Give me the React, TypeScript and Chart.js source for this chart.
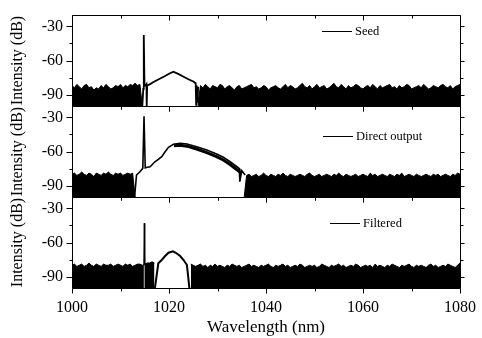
import React, { useEffect, useRef } from "react";
import { Chart, registerables } from "chart.js";

Chart.register(...registerables);

// ---------- axis / label data ----------
const X_START = 1000;
const X_STEP = 0.5;
const xMajorTicks = [1000, 1020, 1040, 1060, 1080];
const xMinorTicks = [1010, 1030, 1050, 1070];
const yMajorTicks = [-90, -60, -30];
const yMinorTicks = [-75, -45];
const panelNames = ["Seed", "Direct output", "Filtered"];
const yTitle = "Intensity (dB)";
const xTitle = "Wavelength (nm)";

// ---------- noise floor tops (0.5 nm grid), gaps where the signal sits ----------
const seedNoiseLeft = [-82, -84, -81, -83, -85, -82, -81, -84, -83, -86, -84, -85, -82, -84, -81, -83, -85, -84, -82, -83, -81, -84, -82, -83, -81, -82, -80, -82, -81];
const seedNoiseRight = [
  -82, -84, -81, -83, -85, -82, -83, -84, -81, -82, -85, -83, -82, -84, -86, -83, -82, -85, -84, -83,
  -82, -81, -84, -83, -85, -84, -82, -83, -86, -84, -83, -82, -84, -85, -83, -81, -84, -82, -83, -85,
  -84, -82, -80, -83, -84, -82, -85, -83, -81, -84, -83, -82, -85, -84, -82, -80, -83, -84, -81, -83,
  -85, -82, -84, -83, -81, -82, -84, -85, -83, -82, -84, -81, -83, -85, -82, -84, -83, -82, -81, -84,
  -83, -85, -82, -84, -83, -81, -82, -85, -84, -83, -82, -84, -81, -83, -85, -84, -82, -83, -84, -82,
  -81, -83, -84, -82, -85, -83, -82, -81,
];
const directNoiseLeft = [-80, -79, -81, -80, -78, -80, -81, -79, -80, -82, -79, -80, -81, -79, -80, -78, -80, -81, -79, -80, -79, -81, -80, -79, -80, -79];
const directNoiseRight = [
  -81, -80, -82, -81, -80, -82, -81, -79, -81, -82, -80, -81, -82, -80, -81, -79, -81, -82, -80, -81,
  -82, -81, -80, -81, -82, -80, -79, -81, -82, -81, -80, -82, -81, -80, -81, -82, -80, -81, -79, -81,
  -82, -80, -81, -82, -81, -80, -82, -81, -80, -81, -82, -79, -81, -80, -82, -81, -80, -81, -82, -80,
  -81, -82, -80, -81, -79, -82, -81, -80, -81, -82, -80, -81, -82, -81, -80, -81, -82, -80, -81, -80,
  -82, -81, -80, -81, -82, -80, -81, -79, -80,
];
const filteredNoiseLeft = [
  -80, -79, -81, -80, -79, -81, -80, -78, -80, -81, -79, -80, -81, -79, -80, -80, -79, -81, -80, -79,
  -80, -81, -79, -80, -79, -81, -80, -79, -79, -80, -79, -78, -78, -77, -78,
];
const filteredNoiseRight = [
  -79, -80, -81, -80, -79, -81, -80, -82, -80, -81, -79, -81, -80, -81, -82, -80, -81, -79, -80, -81,
  -80, -82, -81, -80, -79, -81, -80, -81, -82, -80, -81, -80, -79, -81, -82, -80, -81, -80, -79, -81,
  -80, -82, -81, -80, -81, -79, -80, -82, -81, -80, -81, -80, -82, -81, -79, -80, -81, -82, -80, -81,
  -80, -79, -81, -80, -82, -81, -80, -81, -79, -80, -82, -81, -80, -81, -80, -82, -79, -81, -80, -81,
  -82, -80, -81, -79, -80, -81, -82, -80, -81, -80, -79, -81, -82, -80, -81, -80, -81, -82, -80, -79,
  -81, -80, -82, -81, -80, -81, -79, -80, -81, -82, -80, -78,
];

// ---------- signal traces ----------
const seedSignalX = [1014.5, 1014.7, 1014.8, 1014.95, 1015.2, 1015.35, 1015.4, 1015.5, 1016.0, 1017.0, 1018.0, 1019.0, 1020.0, 1020.9, 1022.0, 1023.0, 1024.0, 1025.0, 1025.5, 1025.6, 1025.7, 1025.9, 1026.0];
const seedSignalY = [-100, -85, -37.5, -82, -82, -81, -100, -82, -81, -78.5, -76.3, -74, -71.7, -69.8, -72, -74.3, -76.5, -78.5, -80, -99, -82, -97, -83];

const directSignalX = [1012.9, 1013.3, 1014.0, 1014.6, 1014.85, 1015.1, 1015.5, 1016.1, 1017.1, 1017.8, 1018.5, 1019.2, 1019.9, 1020.9, 1022.3, 1023.7, 1025.7, 1027.8, 1029.8, 1031.2, 1032.6, 1034.0, 1034.5, 1034.6, 1035.0, 1035.7];
const directSignalY = [-100, -80.7, -77.8, -74.8, -29, -74.5, -73.9, -73.4, -69, -66.9, -64.6, -60.2, -56.3, -53.7, -52.8, -53.4, -55.8, -58.7, -62.2, -65.1, -69, -73.4, -75, -86.5, -76.9, -80.7];
const directBandX = [1021.0, 1022.3, 1023.7, 1025.7, 1027.8, 1029.8, 1031.2, 1032.6, 1034.0, 1035.0];
const directBandY = [-55, -54.5, -55.3, -57.8, -61, -64.5, -67.5, -71.5, -76, -79.5];

const filteredSignalX = [1017.1, 1017.8, 1018.5, 1019.2, 1019.9, 1020.8, 1021.4, 1022.3, 1023.0, 1023.7, 1024.2];
const filteredSignalY = [-100, -78.3, -75.4, -71.9, -69, -67.7, -69, -71.9, -75.4, -79.8, -100];
const filteredSpikeX = [1014.8, 1014.9, 1015.0];
const filteredSpikeY = [-79, -43.1, -79];
const filteredSpikeFootX = [1014.9, 1014.9];
const filteredSpikeFootY = [-100, -80];

const gap = (n: number) => new Array(n).fill(null);
const seedNoise = [...seedNoiseLeft, -100, ...gap(22), -97, ...seedNoiseRight];
const directNoise = [...directNoiseLeft, -100, ...gap(44), -100, ...directNoiseRight];
const filteredNoise = [...filteredNoiseLeft, ...gap(14), ...filteredNoiseRight];

const toPoints = (ys: (number | null)[]) => ys.map((y, i) => ({ x: X_START + i * X_STEP, y }));
const zipPoints = (xs: number[], ys: number[]) => xs.map((x, i) => ({ x, y: ys[i] }));

const PANEL_IDS = ["yS", "yD", "yF"];
const FONT = "'Liberation Serif', 'Times New Roman', serif";

const legendPos = [
  { dx: 250, dy: 16 },
  { dx: 251, dy: 29.7 },
  { dx: 258, dy: 26.3 },
];

const zeroPad = (s: any) => {
  s.paddingTop = 0;
  s.paddingBottom = 0;
  s.paddingLeft = 0;
  s.paddingRight = 0;
};

const framePlugin = {
  id: "frame",
  afterDatasetsDraw(chart: any) {
    const ctx = chart.ctx;
    const xs = chart.scales.x;
    ctx.save();
    ctx.strokeStyle = "#000";
    ctx.lineWidth = 1;
    const L = Math.round(xs.left) + 0.5;
    const R = Math.round(xs.right) + 0.5;
    PANEL_IDS.forEach((id, p) => {
      const ys = chart.scales[id];
      const T = Math.round(ys.top) + 0.5;
      const B = Math.round(ys.bottom) + 0.5;
      ctx.beginPath();
      ctx.rect(L, T, R - L, B - T);
      const xt = (vals: number[], len: number) => {
        vals.forEach((v) => {
          const px = Math.round(xs.getPixelForValue(v)) + 0.5;
          ctx.moveTo(px, T);
          ctx.lineTo(px, T + len);
          ctx.moveTo(px, B);
          ctx.lineTo(px, B + len);
        });
      };
      xt(xMajorTicks, 5);
      xt(xMinorTicks, 3);
      const yt = (vals: number[], lenL: number, lenR: number) => {
        vals.forEach((v) => {
          const py = Math.round(ys.getPixelForValue(v)) + 0.5;
          ctx.moveTo(L - lenL, py);
          ctx.lineTo(L, py);
          ctx.moveTo(R, py);
          ctx.lineTo(R + lenR, py);
        });
      };
      yt(yMajorTicks, 6, 4);
      yt(yMinorTicks, 3, 3);
      ctx.stroke();

      // legend
      const lp = legendPos[p];
      const lx = Math.round(xs.left) + lp.dx;
      const ly = Math.round(ys.top + lp.dy) + 0.5;
      ctx.beginPath();
      ctx.moveTo(lx, ly);
      ctx.lineTo(lx + 30, ly);
      ctx.stroke();
      ctx.fillStyle = "#000";
      ctx.font = `12.5px ${FONT}`;
      ctx.textBaseline = "middle";
      ctx.textAlign = "left";
      ctx.fillText(panelNames[p], lx + 33, ly);
    });
    ctx.restore();
  },
};

function yScale(weight: number) {
  return {
    type: "linear" as const,
    position: "left" as const,
    stack: "panels",
    stackWeight: 1,
    weight,
    min: -100,
    max: -20,
    afterBuildTicks: (s: any) => {
      s.ticks = yMajorTicks.map((v) => ({ value: v }));
    },
    afterFit: (s: any) => {
      s.width = 72;
      zeroPad(s);
    },
    grid: { display: false, drawTicks: false },
    border: { display: false },
    ticks: { color: "#000", padding: 9, font: { family: FONT, size: 16 }, callback: (v: any) => String(v) },
    title: {
      display: true,
      text: yTitle,
      color: "#000",
      font: { family: FONT, size: 16 },
      padding: { top: 8, bottom: 0 },
    },
  };
}

export default function App() {
  const ref = useRef<HTMLCanvasElement | null>(null);
  useEffect(() => {
    if (!ref.current) return;
    const line = (data: any[], yAxisID: string, extra: any = {}) => ({
      data,
      yAxisID,
      borderColor: "#000",
      borderWidth: 1.5,
      pointRadius: 0,
      tension: 0,
      fill: false,
      spanGaps: false,
      ...extra,
    });
    const chart = new Chart(ref.current, {
      type: "line",
      data: {
        datasets: [
          line(zipPoints(seedSignalX, seedSignalY), "yS", { borderWidth: 1.8 }),
          line(zipPoints(directSignalX, directSignalY), "yD", { borderWidth: 1.6 }),
          line(zipPoints(directBandX, directBandY), "yD", { borderWidth: 3 }),
          line(zipPoints(filteredSignalX, filteredSignalY), "yF", { borderWidth: 2 }),
          line(zipPoints(filteredSpikeX, filteredSpikeY), "yF", { borderWidth: 1 }),
          line(zipPoints(filteredSpikeFootX, filteredSpikeFootY), "yF", { borderWidth: 1, borderColor: "#bbbbbb" }),
          line(toPoints(seedNoise), "yS", { borderWidth: 1, backgroundColor: "#000", fill: "start" }),
          line(toPoints(directNoise), "yD", { borderWidth: 1, backgroundColor: "#000", fill: "start" }),
          line(toPoints(filteredNoise), "yF", { borderWidth: 1, backgroundColor: "#000", fill: "start" }),
        ],
      },
      options: {
        responsive: false,
        animation: false,
        devicePixelRatio: 1,
        parsing: false as any,
        normalized: true,
        layout: { padding: { left: 0, right: 22, top: 15, bottom: 0 } },
        plugins: { legend: { display: false }, tooltip: { enabled: false } },
        scales: {
          x: {
            type: "linear",
            position: "bottom",
            min: 1000,
            max: 1080,
            afterBuildTicks: (s: any) => {
              s.ticks = xMajorTicks.map((v) => ({ value: v }));
            },
            afterFit: (s: any) => {
              s.height = 50;
              zeroPad(s);
            },
            grid: { display: false, drawTicks: false },
            border: { display: false },
            ticks: {
              color: "#000",
              padding: 10,
              maxRotation: 0,
              font: { family: FONT, size: 16 },
              callback: (v: any) => String(v),
            },
            title: {
              display: true,
              text: xTitle,
              color: "#000",
              font: { family: FONT, size: 17 },
              padding: { top: 0, bottom: 0 },
            },
          },
          yS: yScale(3),
          yD: yScale(2),
          yF: yScale(1),
        } as any,
      },
      plugins: [framePlugin],
    });
    return () => chart.destroy();
  }, []);
  return (
    <div style={{ position: "fixed", left: 0, top: 0, width: 482, height: 338, background: "#fff" }}>
      <canvas ref={ref} width={482} height={338} style={{ display: "block" }} />
    </div>
  );
}
